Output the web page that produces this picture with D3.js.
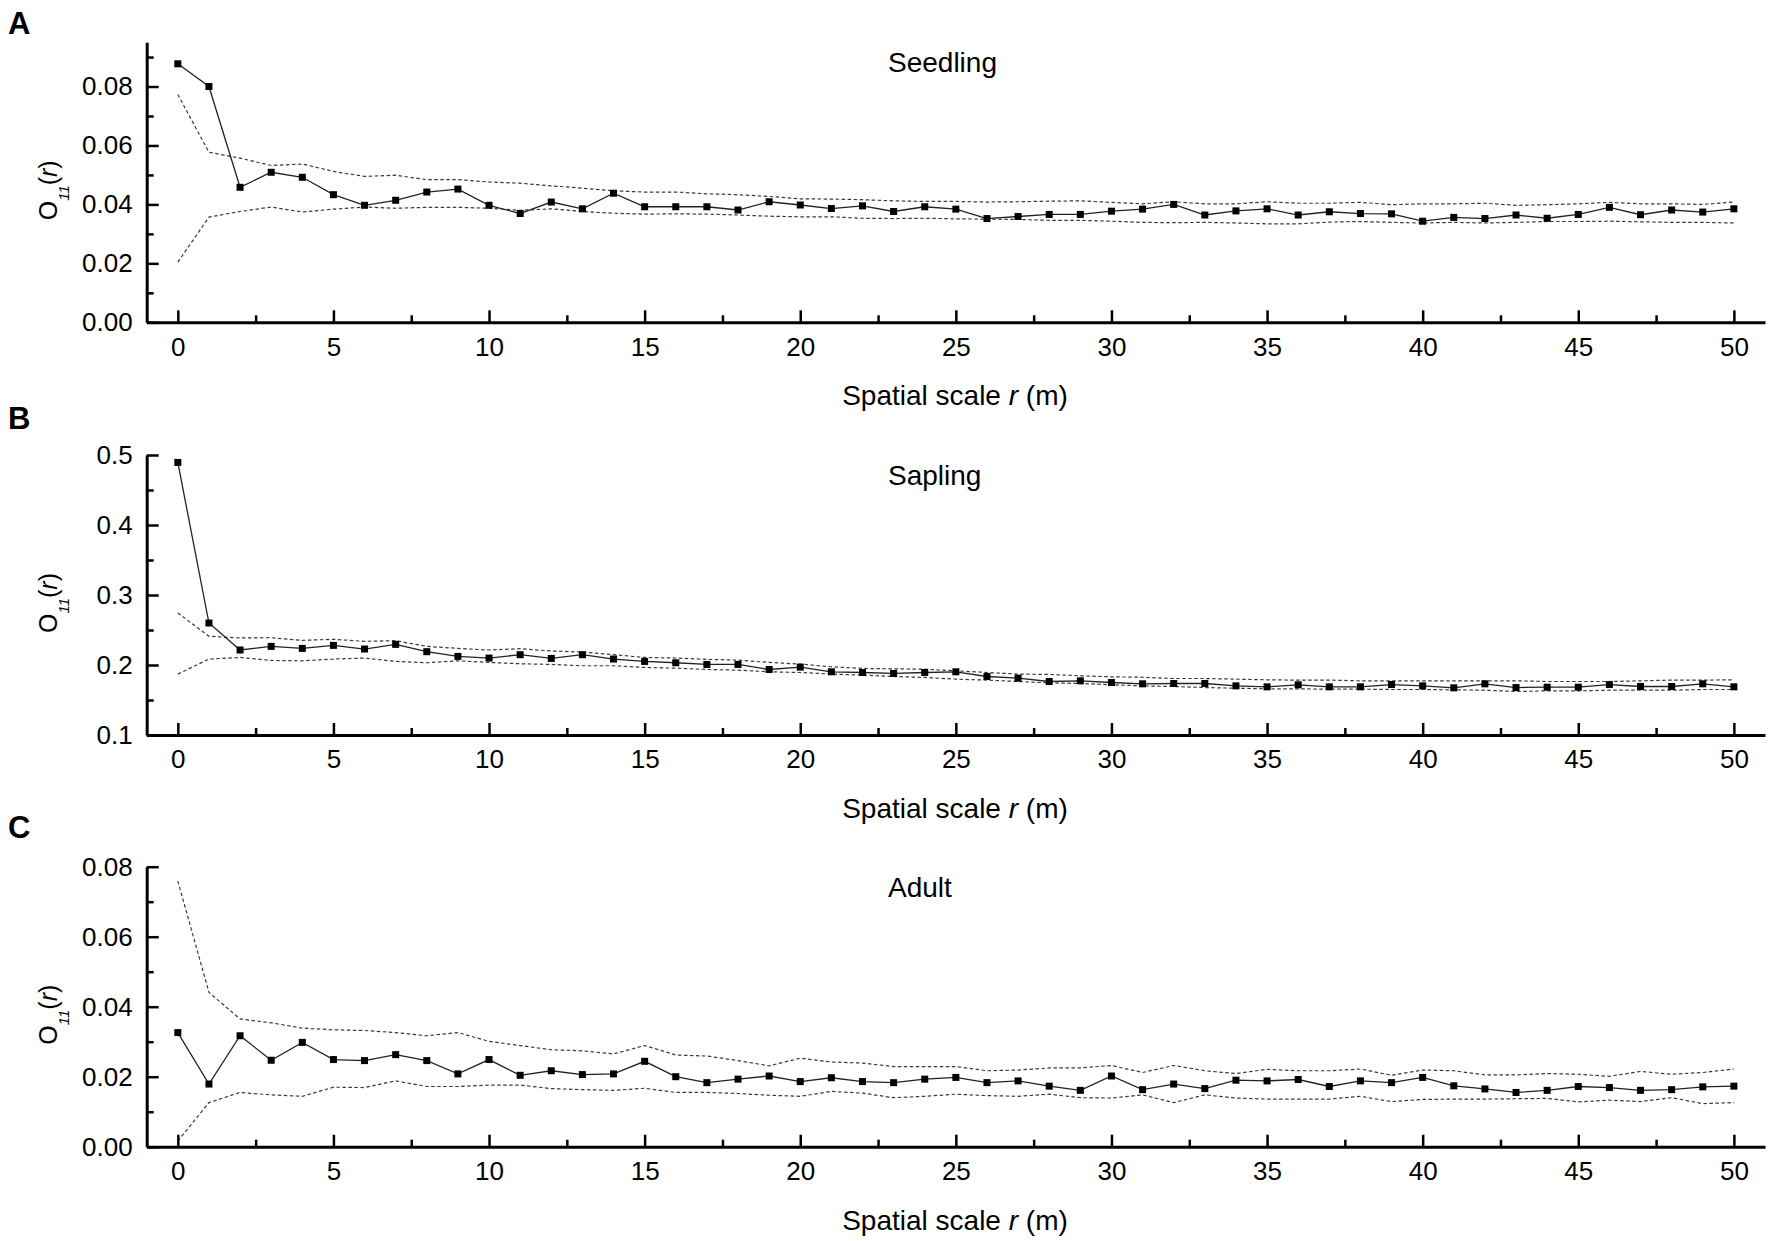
<!DOCTYPE html>
<html>
<head>
<meta charset="utf-8">
<script src="https://cdn.jsdelivr.net/npm/d3@7"></script>
<style>
  html, body { margin: 0; padding: 0; background: #fff; }
  svg { display: block; }
  text { font-family: "Liberation Sans", Arial, sans-serif; fill: #000; }
</style>
</head>
<body>
<script>
// ---------- DATA ----------
const distances = [0,1,2,3,4,5,6,7,8,9,10,11,12,13,14,15,16,17,18,19,20,21,22,23,24,25,26,27,28,29,30,31,32,33,34,35,36,37,38,39,40,41,42,43,44,45,46,47,48,49,50];

const panelLetters = ["A", "B", "C"];
const panelTitles = ["Seedling", "Sapling", "Adult"];

const seedlingObs = [0.0877,0.0800,0.0458,0.0509,0.0492,0.0433,0.0397,0.0414,0.0442,0.0452,
  0.0397,0.0369,0.0408,0.0385,0.0438,0.0392,0.0392,0.0392,0.0381,0.0409,
  0.0398,0.0386,0.0395,0.0376,0.0392,0.0384,0.0352,0.0359,0.0366,0.0366,
  0.0377,0.0384,0.0400,0.0364,0.0378,0.0385,0.0364,0.0375,0.0369,0.0368,
  0.0343,0.0356,0.0352,0.0364,0.0353,0.0366,0.0390,0.0365,0.0381,0.0374,0.0385];
const seedlingUpper = [0.0773,0.0577,0.0557,0.0532,0.0537,0.0512,0.0495,0.0499,0.0484,0.0484,
  0.0476,0.0472,0.0463,0.0455,0.0446,0.0442,0.0442,0.0436,0.0433,0.0427,
  0.0419,0.0418,0.0416,0.0412,0.0410,0.0410,0.0408,0.0409,0.0411,0.0412,
  0.0407,0.0402,0.0409,0.0402,0.0402,0.0409,0.0404,0.0404,0.0407,0.0399,
  0.0402,0.0402,0.0404,0.0397,0.0399,0.0402,0.0407,0.0402,0.0402,0.0400,0.0408];
const seedlingLower = [0.0204,0.0357,0.0376,0.0391,0.0374,0.0384,0.0391,0.0387,0.0390,0.0390,
  0.0387,0.0380,0.0385,0.0376,0.0370,0.0367,0.0368,0.0367,0.0364,0.0360,
  0.0358,0.0358,0.0353,0.0352,0.0353,0.0351,0.0350,0.0349,0.0346,0.0346,
  0.0343,0.0339,0.0338,0.0339,0.0337,0.0334,0.0334,0.0340,0.0342,0.0339,
  0.0337,0.0339,0.0337,0.0339,0.0342,0.0342,0.0343,0.0341,0.0339,0.0339,0.0337];

const saplingObs = [0.4894,0.2600,0.2214,0.2266,0.2237,0.2280,0.2228,0.2295,0.2190,0.2123,
  0.2099,0.2147,0.2094,0.2147,0.2085,0.2051,0.2032,0.2008,0.2008,0.1936,
  0.1970,0.1903,0.1893,0.1879,0.1893,0.1903,0.1836,0.1812,0.1764,0.1774,
  0.1750,0.1731,0.1736,0.1736,0.1702,0.1688,0.1717,0.1688,0.1688,0.1721,
  0.1702,0.1674,0.1731,0.1678,0.1683,0.1683,0.1721,0.1693,0.1693,0.1731,0.1688];
const saplingUpper = [0.2744,0.2410,0.2386,0.2390,0.2352,0.2367,0.2338,0.2347,0.2266,0.2237,
  0.2214,0.2233,0.2200,0.2185,0.2147,0.2108,0.2100,0.2080,0.2070,0.2037,
  0.2013,0.1975,0.1951,0.1945,0.1940,0.1917,0.1893,0.1870,0.1865,0.1846,
  0.1831,0.1825,0.1807,0.1807,0.1798,0.1788,0.1784,0.1784,0.1774,0.1774,
  0.1774,0.1774,0.1774,0.1774,0.1764,0.1764,0.1764,0.1774,0.1784,0.1784,0.1788];
const saplingLower = [0.1870,0.2085,0.2108,0.2065,0.2060,0.2085,0.2099,0.2051,0.2032,0.2060,
  0.2037,0.2018,0.2008,0.1989,0.1989,0.1965,0.1955,0.1936,0.1927,0.1903,
  0.1893,0.1870,0.1855,0.1836,0.1822,0.1798,0.1784,0.1764,0.1745,0.1736,
  0.1717,0.1702,0.1693,0.1678,0.1669,0.1659,0.1659,0.1655,0.1655,0.1650,
  0.1650,0.1645,0.1640,0.1621,0.1631,0.1631,0.1640,0.1640,0.1640,0.1650,0.1650];

const adultObs = [0.0326,0.0179,0.0317,0.0247,0.0298,0.0249,0.0246,0.0263,0.0246,0.0208,
  0.0249,0.0204,0.0217,0.0206,0.0208,0.0244,0.0200,0.0183,0.0193,0.0202,
  0.0186,0.0197,0.0186,0.0183,0.0193,0.0198,0.0183,0.0188,0.0173,0.0161,
  0.0202,0.0163,0.0179,0.0166,0.0190,0.0188,0.0192,0.0172,0.0188,0.0183,
  0.0198,0.0174,0.0165,0.0155,0.0161,0.0172,0.0169,0.0161,0.0163,0.0171,0.0173];
const adultUpper = [0.0759,0.0441,0.0365,0.0354,0.0339,0.0334,0.0332,0.0326,0.0317,0.0326,
  0.0301,0.0289,0.0277,0.0274,0.0265,0.0289,0.0262,0.0259,0.0246,0.0231,
  0.0253,0.0242,0.0239,0.0229,0.0229,0.0229,0.0217,0.0219,0.0225,0.0225,
  0.0232,0.0212,0.0232,0.0217,0.0209,0.0221,0.0217,0.0217,0.0222,0.0204,
  0.0219,0.0217,0.0205,0.0205,0.0209,0.0207,0.0201,0.0215,0.0207,0.0212,0.0222];
const adultLower = [0.0016,0.0126,0.0155,0.0148,0.0144,0.0170,0.0169,0.0188,0.0172,0.0172,
  0.0176,0.0176,0.0166,0.0163,0.0161,0.0167,0.0155,0.0155,0.0152,0.0147,
  0.0144,0.0158,0.0153,0.0140,0.0144,0.0150,0.0146,0.0144,0.0150,0.0140,
  0.0139,0.0148,0.0126,0.0148,0.0139,0.0136,0.0136,0.0136,0.0144,0.0129,
  0.0135,0.0136,0.0136,0.0137,0.0138,0.0128,0.0133,0.0129,0.0140,0.0123,0.0126];

// tick labels
const xMajorTicks = [0,5,10,15,20,25,30,35,40,45,50];
const xMinorTicks = [2.5,7.5,12.5,17.5,22.5,27.5,32.5,37.5,42.5,47.5];
const yMajorA = [0.00,0.02,0.04,0.06,0.08];
const yMinorA = [0.01,0.03,0.05,0.07,0.09];
const yMajorB = [0.1,0.2,0.3,0.4,0.5];
const yMinorB = [0.15,0.25,0.35,0.45];
const yMajorC = [0.00,0.02,0.04,0.06,0.08];
const yMinorC = [0.01,0.03,0.05,0.07];
const yDomainA = [0, 0.095];
const yDomainB = [0.1, 0.5];
const yDomainC = [0, 0.08];
const xDomain = [-1, 51];

// ---------- LAYOUT ----------
const W = 1772, H = 1241;
const left = 146.7, right = 1765;
const plotH = 280;
const FONT = "Liberation Sans, Arial, sans-serif";

const panels = [
  { top: 42.3, letterY: 34, obs: seedlingObs, up: seedlingUpper, lo: seedlingLower,
    dom: yDomainA, major: yMajorA, minor: yMinorA, fmt: ".2f" },
  { top: 455, letterY: 429, obs: saplingObs, up: saplingUpper, lo: saplingLower,
    dom: yDomainB, major: yMajorB, minor: yMinorB, fmt: ".1f" },
  { top: 866.7, letterY: 838, obs: adultObs, up: adultUpper, lo: adultLower,
    dom: yDomainC, major: yMajorC, minor: yMinorC, fmt: ".2f" }
];

const svg = d3.select("body").append("svg").attr("width", W).attr("height", H);

const x = d3.scaleLinear().domain(xDomain).range([left, right]);

panels.forEach((p, i) => {
  const bottom = p.top + plotH;
  const y = d3.scaleLinear().domain(p.dom).range([bottom, p.top]);
  const g = svg.append("g");

  // envelopes (dashed)
  const line = d3.line().x((d, j) => x(distances[j])).y(d => y(d));
  [p.up, p.lo].forEach(arr => {
    g.append("path").datum(arr).attr("d", line)
      .attr("fill", "none").attr("stroke", "#3a3a3a").attr("stroke-width", 1.2)
      .attr("stroke-dasharray", "3.5,2.5");
  });

  // observed line
  g.append("path").datum(p.obs).attr("d", line)
    .attr("fill", "none").attr("stroke", "#222").attr("stroke-width", 1.3);

  // markers
  const ms = 7;
  g.selectAll("rect.m").data(p.obs).enter().append("rect")
    .attr("x", (d, j) => x(distances[j]) - ms / 2)
    .attr("y", d => y(d) - ms / 2)
    .attr("width", ms).attr("height", ms).attr("fill", "#000");

  // x axis
  const xAxis = d3.axisBottom(x).tickValues(xMajorTicks).tickSize(-12).tickSizeOuter(0).tickPadding(15)
    .tickFormat(d3.format("d"));
  const gx = g.append("g").attr("transform", `translate(0,${bottom})`).call(xAxis);
  gx.select(".domain").attr("stroke", "#000").attr("stroke-width", 3);
  gx.selectAll(".tick line").attr("stroke", "#000").attr("stroke-width", 2.5);
  gx.selectAll(".tick text").attr("font-size", 26).attr("font-family", FONT);
  const gxm = g.append("g").attr("transform", `translate(0,${bottom})`)
    .call(d3.axisBottom(x).tickValues(xMinorTicks).tickSize(-7).tickSizeOuter(0).tickFormat(""));
  gxm.select(".domain").remove();
  gxm.selectAll(".tick line").attr("stroke", "#000").attr("stroke-width", 2.5);

  // y axis
  const yAxis = d3.axisLeft(y).tickValues(p.major).tickSize(-12).tickSizeOuter(0).tickPadding(14)
    .tickFormat(d3.format(p.fmt));
  const gy = g.append("g").attr("transform", `translate(${left},0)`).call(yAxis);
  gy.select(".domain").attr("stroke", "#000").attr("stroke-width", 3);
  gy.selectAll(".tick line").attr("stroke", "#000").attr("stroke-width", 2.5);
  gy.selectAll(".tick text").attr("font-size", 26).attr("font-family", FONT);
  const gym = g.append("g").attr("transform", `translate(${left},0)`)
    .call(d3.axisLeft(y).tickValues(p.minor).tickSize(-7).tickSizeOuter(0).tickFormat(""));
  gym.select(".domain").remove();
  gym.selectAll(".tick line").attr("stroke", "#000").attr("stroke-width", 2.5);

  // panel letter
  svg.append("text").attr("x", 8).attr("y", p.letterY)
    .attr("font-size", 31).attr("font-weight", "bold").text(panelLetters[i]);

  // title
  svg.append("text").attr("x", 888).attr("y", p.top + 30)
    .attr("font-size", 28).text(panelTitles[i]);

  // x axis title
  const xt = svg.append("text").attr("x", 955).attr("y", bottom + 83)
    .attr("text-anchor", "middle").attr("font-size", 28);
  xt.append("tspan").text("Spatial scale ");
  xt.append("tspan").attr("font-style", "italic").text("r");
  xt.append("tspan").text(" (m)");

  // y axis title
  const yt = svg.append("text")
    .attr("transform", `translate(57,${p.top + plotH / 2 + 8}) rotate(-90)`)
    .attr("text-anchor", "middle").attr("font-size", 25);
  yt.append("tspan").text("O");
  yt.append("tspan").attr("font-size", 15).attr("font-style", "italic").attr("dy", 12).text("11");
  yt.append("tspan").attr("dy", -12).text("(");
  yt.append("tspan").attr("font-style", "italic").text("r");
  yt.append("tspan").text(")");
});
</script>
</body>
</html>
